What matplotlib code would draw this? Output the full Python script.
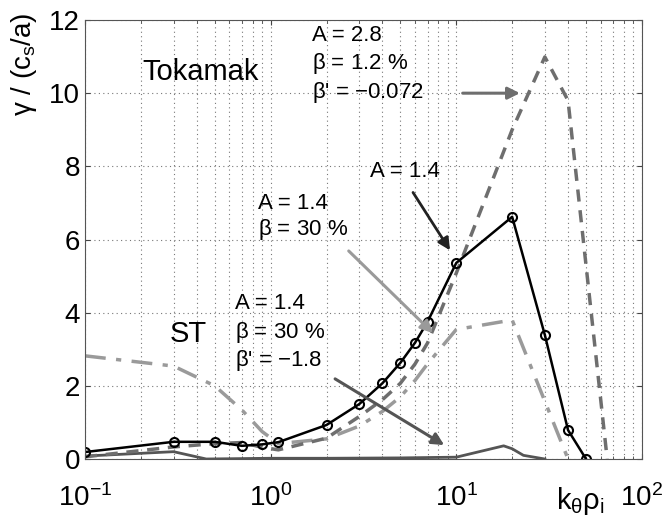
import numpy as np
import matplotlib
matplotlib.use("Agg")
import matplotlib.pyplot as plt
from matplotlib.ticker import LogLocator, NullFormatter

plt.rcParams['font.family'] = ['Liberation Sans', 'DejaVu Sans']
plt.rcParams['mathtext.fontset'] = 'custom'
plt.rcParams['mathtext.rm'] = 'Liberation Sans'
plt.rcParams['mathtext.it'] = 'Liberation Sans:italic'
plt.rcParams['mathtext.default'] = 'rm'

# ST, A = 1.4 (black, circles)
k_st = [0.1, 0.3, 0.5, 0.7, 0.9, 1.1, 2, 3, 4, 5, 6, 7, 10, 20, 30, 40, 50]
g_st = [0.19, 0.47, 0.47, 0.36, 0.40, 0.46, 0.93, 1.50, 2.07, 2.63, 3.18, 3.75, 5.36, 6.62, 3.39, 0.79, 0.0]

# Tokamak, A = 2.8, beta = 1.2 %
k_tok = [0.1, 0.3, 0.5, 0.7, 0.9, 1.1, 2, 3, 4, 5, 6, 7, 10, 20, 30, 40, 65]
g_tok = [0.06, 0.33, 0.42, 0.45, 0.32, 0.25, 0.57, 1.16, 1.62, 2.07, 2.6, 3.17, 5.08, 9.0, 10.99, 9.8, 0.0]

# ST, A = 1.4, beta = 30 %
k_hb = [0.1, 0.3, 0.5, 0.7, 0.9, 1.1, 2, 3, 4, 5, 6, 7, 10, 20, 40]
g_hb = [2.82, 2.54, 2.0, 1.34, 0.75, 0.42, 0.55, 0.9, 1.3, 1.7, 2.15, 2.6, 3.54, 3.80, 0.0]

# ST, A = 1.4, beta = 30 %, beta' = -1.8
k_bp = [0.1, 0.3, 0.45, 1, 2, 5, 10, 18, 20, 23, 30]
g_bp = [0.08, 0.2, 0.0, 0.02, 0.02, 0.03, 0.05, 0.36, 0.28, 0.1, 0.0]

fig = plt.figure(figsize=(6.63, 5.21), dpi=100)
ax = fig.add_axes([0.1282, 0.119, 0.840, 0.8426])

ax.plot(k_bp, g_bp, '-', color='#555555', lw=2)
ax.plot(k_hb, g_hb, '-.', color='#9a9a9a', lw=2.5, dashes=(6, 3, 1.5, 3))
ax.plot(k_tok, g_tok, '--', color='#6e6e6e', lw=2.5, dashes=(3.5, 2.5))
ax.plot(k_st, g_st, '-o', color='black', lw=1.8, ms=6.5, mfc='none', mew=1.5)

ax.set_xscale('log')
ax.set_xlim(0.1, 100)
ax.set_ylim(0, 12)
ax.set_yticks(range(0, 13, 2))
ax.xaxis.set_major_locator(LogLocator(base=10, numticks=10))
ax.xaxis.set_minor_locator(LogLocator(base=10, subs=np.arange(2, 10), numticks=10))
ax.xaxis.set_minor_formatter(NullFormatter())
ax.grid(True, which='major', ls=(0, (1, 3)), color='#777777', lw=0.8)
ax.grid(True, which='minor', axis='x', ls=(0, (1, 3)), color='#777777', lw=0.8)
ax.tick_params(which='both', direction='in', top=True, right=True, labelsize=20, colors='#444444', labelcolor='black')
ax.tick_params(axis='x', pad=18)
for s in ax.spines.values():
    s.set_color('#555555')

fig.text(0.036, 0.977, r'$\gamma$ / (c$_\mathrm{s}$/a)', rotation=90, ha='center', va='top', fontsize=20)
fig.text(0.876, 0.008, r'k$_\theta\rho_\mathrm{i}$', ha='center', va='bottom', fontsize=21)

ax.text(0.205, 10.57, 'Tokamak', fontsize=21, va='center')
ax.text(0.287, 3.42, 'ST', fontsize=21, va='center')

ax.text(1.67, 11.58, 'A = 2.8', fontsize=16, va='center')
ax.text(1.67, 10.82, r'$\beta$ = 1.2 %', fontsize=16, va='center')
ax.text(1.67, 10.03, r"$\beta$' = $-$0.072", fontsize=16, va='center')
ax.annotate('', xy=(22.8, 10.0), xytext=(10.46, 10.0),
            arrowprops=dict(arrowstyle='-|>', color='#6e6e6e', lw=2.2, mutation_scale=18))

ax.text(3.42, 7.87, 'A = 1.4', fontsize=16, va='center')
ax.annotate('', xy=(9.43, 5.64), xytext=(5.74, 7.35),
            arrowprops=dict(arrowstyle='-|>', color='#222222', lw=2, mutation_scale=18))

ax.text(0.854, 6.99, 'A = 1.4', fontsize=16, va='center')
ax.text(0.854, 6.28, r'$\beta$ = 30 %', fontsize=16, va='center')
ax.annotate('', xy=(7.67, 3.39), xytext=(2.57, 5.74),
            arrowprops=dict(arrowstyle='-|>', color='#9a9a9a', lw=2.2, mutation_scale=18))

ax.text(0.642, 4.26, 'A = 1.4', fontsize=16, va='center')
ax.text(0.642, 3.47, r'$\beta$ = 30 %', fontsize=16, va='center')
ax.text(0.642, 2.70, r"$\beta$' = $-$1.8", fontsize=16, va='center')
ax.annotate('', xy=(8.87, 0.34), xytext=(2.16, 2.23),
            arrowprops=dict(arrowstyle='-|>', color='#555555', lw=2.2, mutation_scale=18))

fig.savefig('out.png', dpi=100)
